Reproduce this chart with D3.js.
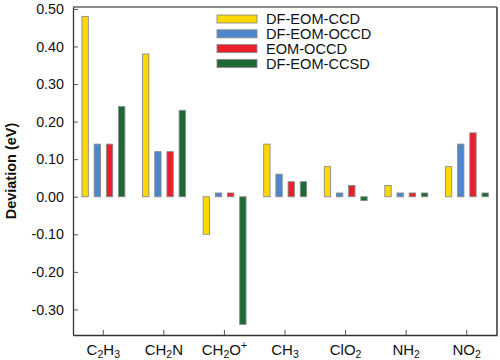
<!DOCTYPE html>
<html><head><meta charset="utf-8">
<script src="https://cdn.jsdelivr.net/npm/d3@7/dist/d3.min.js"></script>
<style>body{margin:0;background:#fff}svg{display:block}text{font-family:"Liberation Sans",Arial,Helvetica,sans-serif}</style>
</head><body>
<script>
const categories = ["C2H3","CH2N","CH2O+","CH3","ClO2","NH2","NO2"];
const categoryLabels = [
  [["C",""],["2","sub"],["H",""],["3","sub"]],
  [["CH",""],["2","sub"],["N",""]],
  [["CH",""],["2","sub"],["O",""],["+","sup"]],
  [["CH",""],["3","sub"]],
  [["ClO",""],["2","sub"]],
  [["NH",""],["2","sub"]],
  [["NO",""],["2","sub"]]
];
const seriesNames = ["DF-EOM-CCD","DF-EOM-OCCD","EOM-OCCD","DF-EOM-CCSD"];
const seriesColors = ["#FFD800","#4C87CB","#EA1F2B","#1D6934"];
const dfEomCcd  = [0.48, 0.38, -0.10, 0.14, 0.08, 0.03, 0.08];
const dfEomOccd = [0.14, 0.12, 0.01, 0.06, 0.01, 0.01, 0.14];
const eomOccd   = [0.14, 0.12, 0.01, 0.04, 0.03, 0.01, 0.17];
const dfEomCcsd = [0.24, 0.23, -0.34, 0.04, -0.01, 0.01, 0.01];
const seriesValues = [dfEomCcd, dfEomOccd, eomOccd, dfEomCcsd];
const yTicks = [-0.30,-0.20,-0.10,0.00,0.10,0.20,0.30,0.40,0.50];

const W=500,H=360, L=73, R=497, T=7, B=335;
const svg = d3.select("body").append("svg").attr("width",W).attr("height",H);

const x = d3.scaleBand().domain(categories).range([L,R]).padding(0);
const y = d3.scaleLinear().domain([-0.368,0.505]).range([B,T]);
const xi = d3.scaleBand().domain(seriesNames)
  .range([x.bandwidth()/2-21.3, x.bandwidth()/2+21.6]).paddingInner(0.48).paddingOuter(0);

// bars
const data = [];
categories.forEach((c,i)=>seriesNames.forEach((s,j)=>data.push({c,s,j,v:seriesValues[j][i]})));
svg.append("g").selectAll("rect").data(data).join("rect")
  .attr("x",d=>x(d.c)+xi(d.s))
  .attr("width",xi.bandwidth())
  .attr("y",d=>y(Math.max(0,d.v)))
  .attr("height",d=>Math.abs(y(d.v)-y(0)))
  .attr("fill",d=>seriesColors[d.j])
  .attr("stroke","#8a8a8a").attr("stroke-width",0.9);

// frame
svg.append("line").attr("x1",L).attr("x2",R).attr("y1",T).attr("y2",T).attr("stroke","#666").attr("stroke-width",1.5);
svg.append("line").attr("x1",R).attr("x2",R).attr("y1",T).attr("y2",B).attr("stroke","#666").attr("stroke-width",2);

// y axis
const fmt = d3.format(".2f");
const ya = d3.axisLeft(y).tickValues(yTicks).tickFormat(d=>fmt(d).replace("\u2212","-")).tickSizeInner(-5).tickSizeOuter(0).tickPadding(9);
const gy = svg.append("g").attr("transform",`translate(${L},0)`).call(ya);
gy.select(".domain").attr("stroke","#333").attr("stroke-width",1.3);
gy.selectAll(".tick line").attr("stroke","#555");
gy.selectAll("text").attr("font-size",14.3).attr("fill","#111").attr("font-family","Liberation Sans, Arial, sans-serif");

// x axis
const xa = d3.axisBottom(x).tickSizeInner(-5).tickSizeOuter(0).tickFormat("");
const gx = svg.append("g").attr("transform",`translate(0,${B})`).call(xa);
gx.select(".domain").attr("stroke","#333").attr("stroke-width",1.3);
gx.selectAll(".tick line").attr("stroke","#555");

// category labels with sub/superscripts
categories.forEach((c,i)=>{
  const t = svg.append("text").attr("x",x(c)+x.bandwidth()/2).attr("y",355)
    .attr("text-anchor","middle").attr("font-size",15).attr("fill","#111");
  categoryLabels[i].forEach(([s,k])=>{
    const ts = t.append("tspan").text(s);
    if(k==="sub") ts.attr("font-size",10.5).attr("baseline-shift","-3");
    if(k==="sup") ts.attr("font-size",10.5).attr("baseline-shift","6");
  });
});

// y title
svg.append("text").attr("transform",`translate(16,171) rotate(-90)`)
  .attr("text-anchor","middle").attr("font-size",14.5).attr("font-weight","bold").attr("fill","#111")
  .text("Deviation (eV)");

// legend
const lg = svg.append("g");
seriesNames.forEach((s,j)=>{
  const cy = 19 + j*14.8;
  lg.append("rect").attr("x",217).attr("y",cy-4).attr("width",40).attr("height",8)
    .attr("fill",seriesColors[j]).attr("stroke","#8a8a8a").attr("stroke-width",0.9);
  lg.append("text").attr("x",266).attr("y",cy+5.2).attr("font-size",14.6).attr("fill","#111").text(s);
});
</script>
</body></html>
